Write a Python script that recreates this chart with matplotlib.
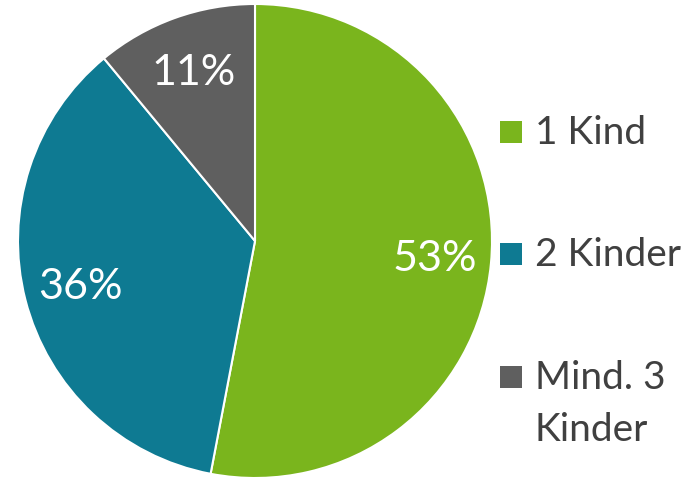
import matplotlib
matplotlib.use("Agg")
import matplotlib.pyplot as plt
from matplotlib.patches import Rectangle

categories = ["1 Kind", "2 Kinder", "Mind. 3\nKinder"]
values = [53, 36, 11]
colors = ["#7AB51D", "#0E7A92", "#5F5F5F"]

plt.rcParams['font.family'] = ['Lato', 'DejaVu Sans']

W, H = 696, 481
fig = plt.figure(figsize=(W / 100, H / 100), dpi=100)
ax = fig.add_axes([18 / W, (H - 479) / H, 474 / W, 474 / H])
wedges, texts, autotexts = ax.pie(
    values, colors=colors, startangle=90, counterclock=False,
    autopct=lambda p: f"{p:.0f}%", pctdistance=0.76,
    wedgeprops=dict(edgecolor="white", linewidth=1.5),
    textprops=dict(color="white", fontsize=31))
ax.set_aspect("equal")
ax.set_xlim(-1.0, 1.0)
ax.set_ylim(-1.0, 1.0)

# manual legend
ycent = [133, 255, 378]
for cat, col, yc in zip(categories, colors, ycent):
    fig.add_artist(Rectangle((500 / W, (H - yc - 11) / H), 22 / W, 22 / H,
                             transform=fig.transFigure, facecolor=col, edgecolor="none"))
    fig.text(535 / W, (H - yc) / H + 0.0, cat.split("\n")[0], color="#404040",
             fontsize=28, va="center", ha="left")
    if "\n" in cat:
        fig.text(535 / W, (H - yc - 52) / H, cat.split("\n")[1], color="#404040",
                 fontsize=28, va="center", ha="left")

fig.savefig("out.png", dpi=100)
